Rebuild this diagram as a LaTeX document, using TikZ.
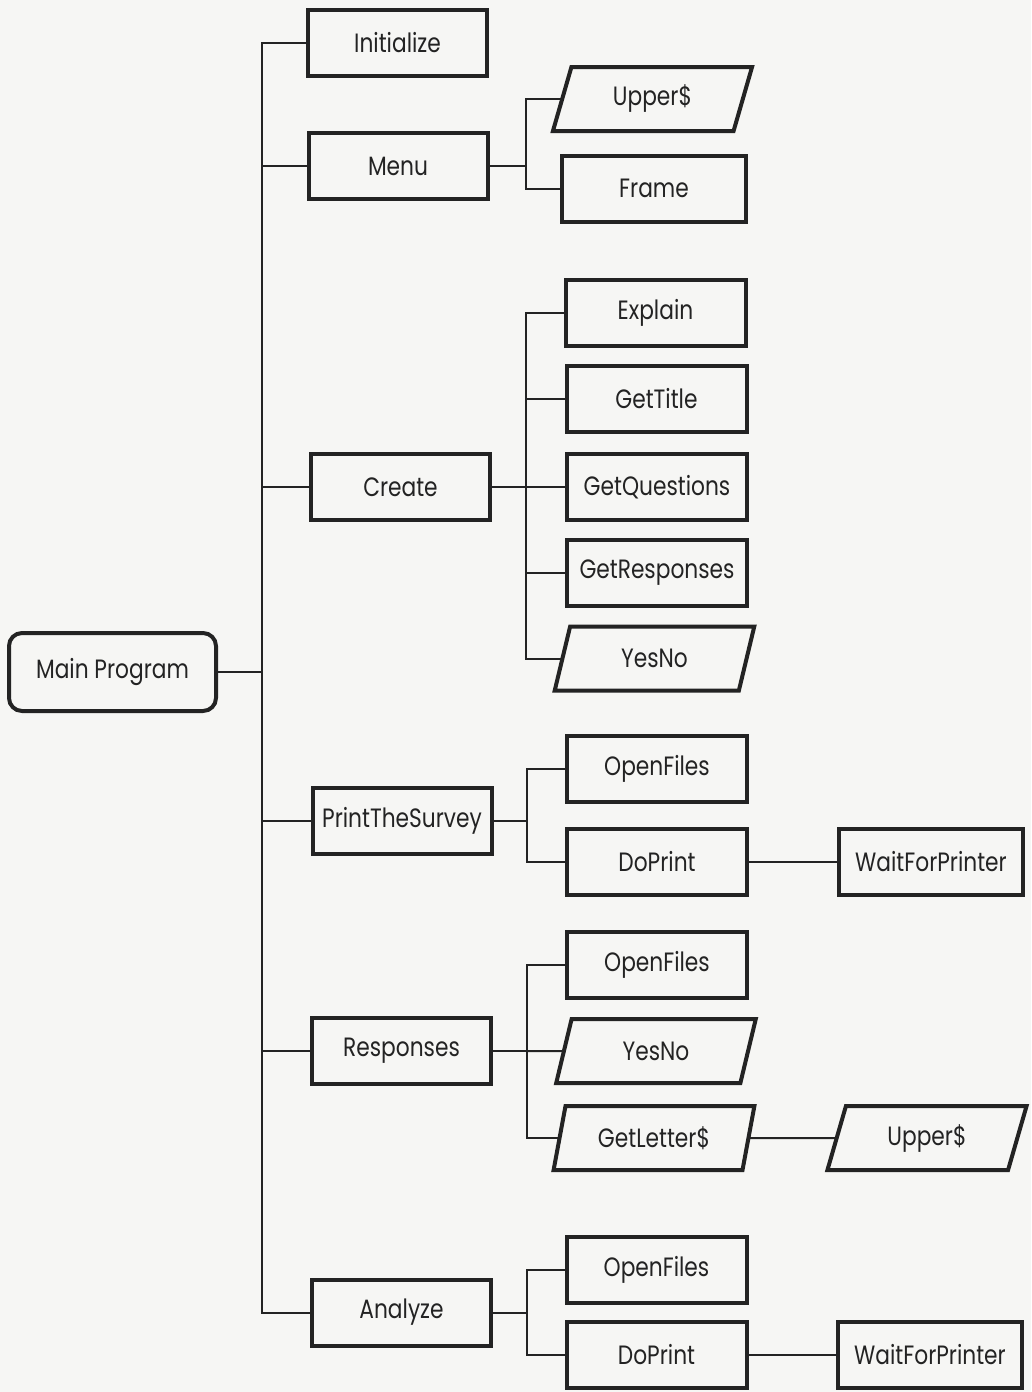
\documentclass[tikz,border=0pt]{standalone}
\usepackage{fontspec}
\setmainfont[FakeStretch=0.82]{Poppins}
\usetikzlibrary{shapes.geometric}
\definecolor{ink}{RGB}{35,35,35}
\definecolor{paper}{RGB}{246,246,244}
\begin{document}
\begin{tikzpicture}[x=1pt,y=-1pt,
  box/.style={draw=ink, line width=4pt, rectangle, minimum width=179pt, minimum height=66pt,
    inner sep=0pt, outer sep=0pt, font=\fontsize{26.5}{30}\selectfont, text=ink},
  rcol/.style={box, minimum width=180pt},
  io/.style={box, trapezium, trapezium left angle=72, trapezium right angle=108,
    trapezium stretches=true, minimum width=201pt, minimum height=64pt},
  link/.style={draw=ink, line width=2pt}]
\path[fill=paper] (0,0) rectangle (1031,1392);

% level 0
\node[box, rounded corners=13pt, minimum width=207pt, minimum height=78pt] (main) at (112.5,672) {Main Program};

% level 1
\node[box] (init)    at (397.5,43)   {Initialize};
\node[box] (menu)    at (398,166)    {Menu};
\node[box] (create)  at (400.5,487)  {Create};
\node[box] (pts)     at (402,820.5)  {PrintTheSurvey};
\node[box] (resp)    at (401.5,1051) {Responses};
\node[box] (analyze) at (401.5,1312.5) {Analyze};

% level 2
\node[io]   (upperA)  at (652.5,99)   {Upper\$};
\node[rcol, minimum width=184pt] (frame) at (654,188.5) {Frame};
\node[rcol] (explain) at (655.5,313)  {Explain};
\node[rcol] (gettitle) at (656.5,399) {GetTitle};
\node[rcol] (getq)    at (657,487)    {GetQuestions};
\node[rcol] (getr)    at (657,573)    {GetResponses};
\node[io]   (yesnoA)  at (654.5,658.5) {YesNo};
\node[rcol] (openA)   at (657,768.5)  {OpenFiles};
\node[rcol] (doprA)   at (657,861.5)  {DoPrint};
\node[rcol] (openB)   at (657,964.5)  {OpenFiles};
\node[io]   (yesnoB)  at (656,1051)   {YesNo};
\node[io]   (getlet)  at (654,1138)   {GetLetter\$};
\node[rcol] (openC)   at (656.5,1270) {OpenFiles};
\node[rcol] (doprC)   at (656.5,1354.5) {DoPrint};

% level 3
\node[rcol, minimum width=184pt] (waitA) at (931,861.5)  {WaitForPrinter};
\node[io]   (upperB) at (927,1138) {Upper\$};
\node[rcol, minimum width=184pt] (waitC) at (930,1354.5) {WaitForPrinter};

% trunk
\coordinate (T) at (262,672);
\draw[link] (main.east) -- (T);
\draw[link] (init.west) -| (T) |- (analyze.west);
\foreach \n in {menu,create,pts,resp}{\draw[link] (T |- \n.west) -- (\n.west);}

% Menu
\coordinate (mj) at (526,166);
\draw[link] (menu.east) -- (mj);
\draw[link] (upperA.west) -| (mj) |- (frame.west);

% Create
\coordinate (cj) at (526,487);
\draw[link] (create.east) -- (cj);
\draw[link] (explain.west) -| (cj) |- (yesnoA.west);
\foreach \n in {gettitle,getq,getr}{\draw[link] (cj |- \n.west) -- (\n.west);}

% PrintTheSurvey
\coordinate (pj) at (527,820.5);
\draw[link] (pts.east) -- (pj);
\draw[link] (openA.west) -| (pj) |- (doprA.west);
\draw[link] (doprA.east) -- (waitA.west);

% Responses
\coordinate (rj) at (527,1051);
\draw[link] (resp.east) -- (rj);
\draw[link] (openB.west) -| (rj) |- (getlet.west);
\draw[link] (rj) -- (yesnoB.west);
\draw[link] (getlet.east) -- (upperB.west);

% Analyze
\coordinate (aj) at (527,1312.5);
\draw[link] (analyze.east) -- (aj);
\draw[link] (openC.west) -| (aj) |- (doprC.west);
\draw[link] (doprC.east) -- (waitC.west);
\end{tikzpicture}
\end{document}
